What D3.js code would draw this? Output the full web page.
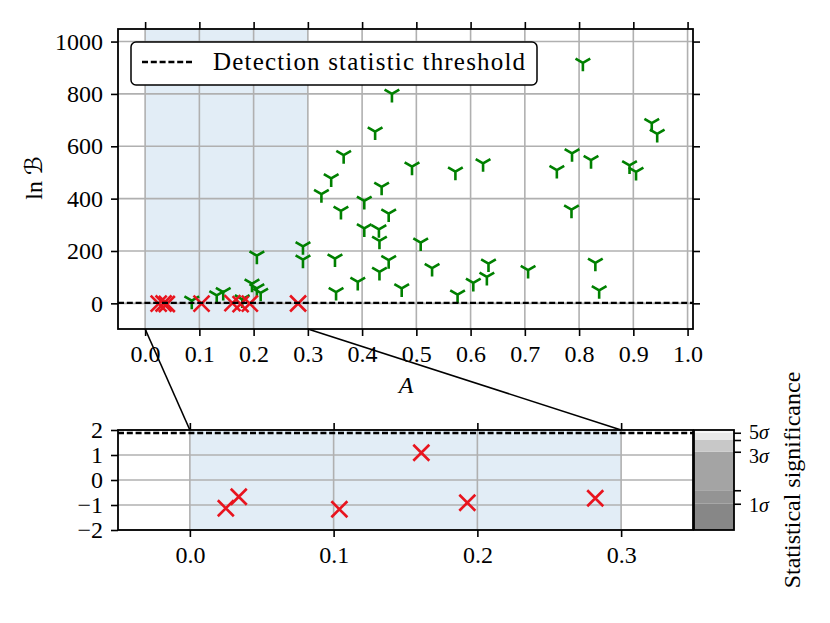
<!DOCTYPE html>
<meta charset="utf-8">
<style>
body {
  margin: 0;
  background: #fff;
}
svg {
  font-family: "Liberation Serif", "DejaVu Serif", serif;
  font-size: 24px;
}
.grid line {
  stroke: #b0b0b0;
  stroke-width: 1.6;
}
.frame {
  fill: none;
  stroke: black;
  stroke-width: 1.8;
}
.tick line {
  stroke: black;
  stroke-width: 1.6;
}
</style>
<body>
<script src="https://d3js.org/d3.v7.min.js"></script>
<script>

var width = 830,
    height = 623;

// injections recovered above the threshold
var foundA = [0.086, 0.132, 0.144, 0.179, 0.197, 0.206, 0.213, 0.206, 0.291, 0.291,
  0.325, 0.343, 0.366, 0.424, 0.455, 0.436, 0.404, 0.361, 0.449, 0.404, 0.431, 0.432,
  0.350, 0.449, 0.432, 0.392, 0.352, 0.473, 0.492, 0.508,
  0.529, 0.572, 0.576, 0.605, 0.623, 0.630, 0.633, 0.706, 0.759, 0.786, 0.787, 0.807,
  0.822, 0.830, 0.837, 0.893, 0.905, 0.934, 0.944];
var foundLnB = [10, 30, 43, 15, 75, 57, 40, 182, 218, 167,
  417, 477, 566, 656, 800, 445, 391, 353, 343, 286, 283, 239,
  171, 165, 120, 82, 43, 57, 522, 232,
  135, 503, 33, 78, 535, 101, 152, 127, 509, 358, 573, 919,
  547, 155, 50, 527, 502, 688, 647];

// injections below the threshold
var missedA = [0.025, 0.034, 0.040, 0.104, 0.161, 0.176, 0.193, 0.282];
var missedLnB = [-1.13, -0.67, -2.6, -1.17, 1.09, -3.1, -0.91, -0.73];

var threshold = 1.88;

// colorbar: lnB at each sigma level
var sigmaLabels = ["1σ", "", "3σ", "", "5σ"];
var sigmaLnB = [-0.95, -0.41, 1.13, 1.6, 1.89];
var bandGreys = ["#878787", "#949494", "#a4a4a4", "#c8c8c8", "#e8e8e8", "#f5f5f5"];

var topXTicks = d3.range(0, 11).map(function(d) { return d / 10; });
var topYTicks = [0, 200, 400, 600, 800, 1000];
var botXTicks = [0, 0.1, 0.2, 0.3];
var botYTicks = [-2, -1, 0, 1, 2];

var zoomRange = [0, 0.3];

var svg = d3.select("body").append("svg")
    .attr("width", width)
    .attr("height", height);

var found = foundA.map(function(a, i) { return {a: a, b: foundLnB[i]}; });
var missed = missedA.map(function(a, i) { return {a: a, b: missedLnB[i]}; });

var red = "#e8141e",
    green = "#008000";

function triDown(r) {
  var sx = r * 0.866, sy = r * 0.5;
  return "M0,0V" + r + "M0,0L" + (-sx) + "," + (-sy) + "M0,0L" + sx + "," + (-sy);
}
function cross(r) {
  return "M" + (-r) + "," + (-r) + "L" + r + "," + r + "M" + (-r) + "," + r + "L" + r + "," + (-r);
}

// strip d3's default axis font so the serif face applies
function restyle(g) {
  g.attr("font-family", null).attr("font-size", null);
  g.select(".domain").remove();
}

// ---------- top panel ----------
var x = d3.scaleLinear().domain([-0.05, 1.01]).range([118, 693]);
var y = d3.scaleLinear().domain([-98, 1048]).range([329, 29]);

var upper = svg.append("g");

upper.append("rect")
    .attr("x", x(zoomRange[0]))
    .attr("y", y.range()[1])
    .attr("width", x(zoomRange[1]) - x(zoomRange[0]))
    .attr("height", y.range()[0] - y.range()[1])
    .attr("fill", "#e2edf6");

var g1 = upper.append("g").attr("class", "grid");
g1.selectAll(".vx").data(topXTicks).enter().append("line")
    .attr("x1", x).attr("x2", x)
    .attr("y1", y.range()[0]).attr("y2", y.range()[1]);
g1.selectAll(".hy").data(topYTicks).enter().append("line")
    .attr("y1", y).attr("y2", y)
    .attr("x1", x.range()[0]).attr("x2", x.range()[1]);

upper.selectAll(".found")
    .data(found)
  .enter().append("path")
    .attr("d", triDown(8.5))
    .attr("transform", function(d) { return "translate(" + x(d.a) + "," + y(d.b) + ")"; })
    .attr("stroke", green)
    .attr("stroke-width", 2.6)
    .attr("fill", "none");

upper.selectAll(".missed")
    .data(missed)
  .enter().append("path")
    .attr("d", cross(8))
    .attr("transform", function(d) { return "translate(" + x(d.a) + "," + y(d.b) + ")"; })
    .attr("stroke", red)
    .attr("stroke-width", 2.6)
    .attr("fill", "none");

upper.append("line")
    .attr("x1", x.range()[0]).attr("x2", x.range()[1])
    .attr("y1", y(threshold)).attr("y2", y(threshold))
    .attr("stroke", "black")
    .attr("stroke-width", 2.4)
    .attr("stroke-dasharray", "6,2.8");

upper.append("g")
    .attr("transform", "translate(0," + y.range()[0] + ")")
    .call(d3.axisBottom(x).tickValues(topXTicks).tickFormat(d3.format(".1f"))
      .tickSize(7).tickPadding(9).tickSizeOuter(0))
    .call(restyle);
upper.append("g")
    .attr("transform", "translate(0," + y.range()[1] + ")")
    .call(d3.axisTop(x).tickValues(topXTicks).tickFormat("").tickSize(7).tickSizeOuter(0))
    .call(restyle);
upper.append("g")
    .attr("transform", "translate(" + x.range()[0] + ",0)")
    .call(d3.axisLeft(y).tickValues(topYTicks).tickFormat(d3.format("d"))
      .tickSize(7).tickPadding(8).tickSizeOuter(0))
    .call(restyle);
upper.append("g")
    .attr("transform", "translate(" + x.range()[1] + ",0)")
    .call(d3.axisRight(y).tickValues(topYTicks).tickFormat("").tickSize(7).tickSizeOuter(0))
    .call(restyle);

upper.append("rect")
    .attr("class", "frame")
    .attr("x", x.range()[0]).attr("y", y.range()[1])
    .attr("width", x.range()[1] - x.range()[0])
    .attr("height", y.range()[0] - y.range()[1]);

// legend
var legend = upper.append("g");
legend.append("rect")
    .attr("x", 131).attr("y", 42)
    .attr("width", 406).attr("height", 43)
    .attr("rx", 5)
    .attr("fill", "white")
    .attr("stroke", "black")
    .attr("stroke-width", 1.5);
legend.append("line")
    .attr("x1", 142).attr("x2", 192)
    .attr("y1", 62).attr("y2", 62)
    .attr("stroke", "black")
    .attr("stroke-width", 2.4)
    .attr("stroke-dasharray", "6,2.8");
legend.append("text")
    .attr("x", 213).attr("y", 70)
    .attr("font-size", 25)
    .attr("textLength", 312)
    .text("Detection statistic threshold");

upper.append("text")
    .attr("x", 406).attr("y", 393)
    .attr("text-anchor", "middle")
    .attr("font-style", "italic")
    .text("A");

var ylab = upper.append("text")
    .attr("transform", "translate(42,178) rotate(-90)")
    .attr("text-anchor", "middle");
ylab.append("tspan").text("ln ");
ylab.append("tspan").attr("font-family", "DejaVu Serif, DejaVu Sans").attr("font-style", "italic").text("ℬ");

// ---------- bottom panel ----------
var x2 = d3.scaleLinear().domain([-0.05, 0.35]).range([118, 693]);
var y2 = d3.scaleLinear().domain([-2, 2]).range([530, 430]);

var lower = svg.append("g");

svg.append("clipPath").attr("id", "clipBot")
  .append("rect")
    .attr("x", x2.range()[0]).attr("y", y2.range()[1])
    .attr("width", x2.range()[1] - x2.range()[0])
    .attr("height", y2.range()[0] - y2.range()[1]);

lower.append("rect")
    .attr("x", x2(zoomRange[0]))
    .attr("y", y2.range()[1])
    .attr("width", x2(zoomRange[1]) - x2(zoomRange[0]))
    .attr("height", y2.range()[0] - y2.range()[1])
    .attr("fill", "#e2edf6");

var g2 = lower.append("g").attr("class", "grid");
g2.selectAll(".vx").data(botXTicks).enter().append("line")
    .attr("x1", x2).attr("x2", x2)
    .attr("y1", y2.range()[0]).attr("y2", y2.range()[1]);
g2.selectAll(".hy").data(botYTicks).enter().append("line")
    .attr("y1", y2).attr("y2", y2)
    .attr("x1", x2.range()[0]).attr("x2", x2.range()[1]);

lower.append("g")
    .attr("clip-path", "url(#clipBot)")
  .selectAll(".missed")
    .data(missed)
  .enter().append("path")
    .attr("d", cross(8))
    .attr("transform", function(d) { return "translate(" + x2(d.a) + "," + y2(d.b) + ")"; })
    .attr("stroke", red)
    .attr("stroke-width", 2.6)
    .attr("fill", "none");

lower.append("line")
    .attr("x1", x2.range()[0]).attr("x2", x2.range()[1])
    .attr("y1", y2(threshold)).attr("y2", y2(threshold))
    .attr("stroke", "black")
    .attr("stroke-width", 2.4)
    .attr("stroke-dasharray", "6,2.8");

var minus = function(d) { return d < 0 ? "\u2212" + Math.abs(d) : "" + d; };

lower.append("g")
    .attr("transform", "translate(0," + y2.range()[0] + ")")
    .call(d3.axisBottom(x2).tickValues(botXTicks).tickFormat(d3.format(".1f"))
      .tickSize(7).tickPadding(9).tickSizeOuter(0))
    .call(restyle);
lower.append("g")
    .attr("transform", "translate(0," + y2.range()[1] + ")")
    .call(d3.axisTop(x2).tickValues(botXTicks).tickFormat("").tickSize(7).tickSizeOuter(0))
    .call(restyle);
lower.append("g")
    .attr("transform", "translate(" + x2.range()[0] + ",0)")
    .call(d3.axisLeft(y2).tickValues(botYTicks).tickFormat(minus).tickSize(7).tickPadding(8).tickSizeOuter(0))
    .call(restyle);

lower.append("rect")
    .attr("class", "frame")
    .attr("x", x2.range()[0]).attr("y", y2.range()[1])
    .attr("width", x2.range()[1] - x2.range()[0])
    .attr("height", y2.range()[0] - y2.range()[1]);

// ---------- colorbar ----------
var cb = svg.append("g");
var cbX = 694, cbW = 40;
var edges = [y2.domain()[0]].concat(sigmaLnB, [y2.domain()[1]]);

cb.selectAll(".band")
    .data(bandGreys)
  .enter().append("rect")
    .attr("x", cbX)
    .attr("width", cbW)
    .attr("y", function(d, i) { return y2(edges[i + 1]); })
    .attr("height", function(d, i) { return y2(edges[i]) - y2(edges[i + 1]); })
    .attr("fill", function(d) { return d; });

cb.append("g")
    .attr("transform", "translate(" + (cbX + cbW) + ",0)")
    .call(d3.axisRight(y2).tickValues(sigmaLnB)
      .tickFormat(function(d, i) { return sigmaLabels[i]; })
      .tickSize(7).tickPadding(8).tickSizeOuter(0))
    .call(restyle)
    .call(function(g) {
      g.selectAll("text").attr("font-size", 20)
        .attr("dy", function(d, i) { return i === 4 ? "0.3em" : i === 2 ? "0.55em" : "0.4em"; })
        .each(function() {
          var t = d3.select(this), s = t.text();
          if (!s) return;
          t.text(s.slice(0, -1));
          t.append("tspan").attr("font-style", "italic").text("σ");
        });
    });

cb.append("rect")
    .attr("class", "frame")
    .attr("x", cbX).attr("y", y2.range()[1])
    .attr("width", cbW)
    .attr("height", y2.range()[0] - y2.range()[1]);

svg.append("text")
    .attr("transform", "translate(800,480) rotate(-90)")
    .attr("text-anchor", "middle")
    .text("Statistical significance");

// ---------- zoom connectors ----------
zoomRange.forEach(function(a) {
  svg.append("line")
      .attr("x1", x(a)).attr("y1", y.range()[0])
      .attr("x2", x2(a)).attr("y2", y2.range()[1])
      .attr("stroke", "black")
      .attr("stroke-width", 1.6);
});

</script>
